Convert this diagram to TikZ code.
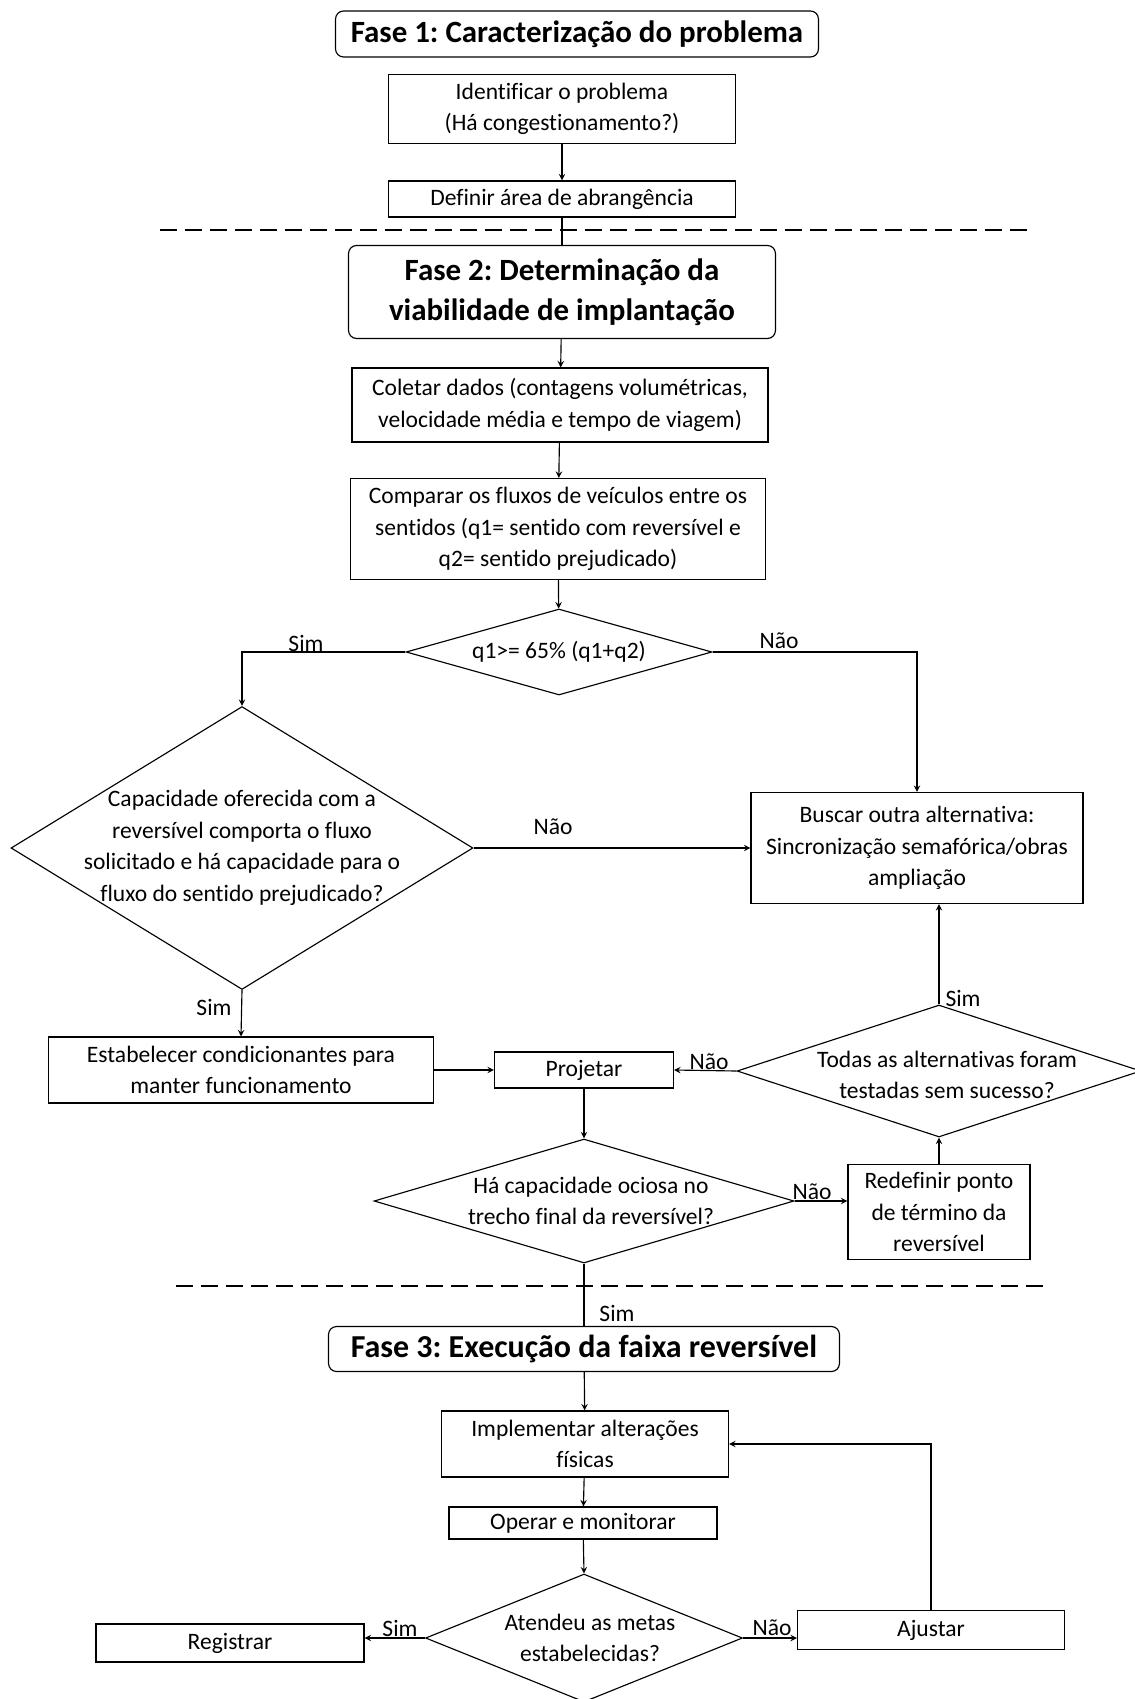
\documentclass[tikz,border=0pt]{standalone}
\usepackage{fontspec}
\setmainfont{Carlito}[Ligatures=NoCommon]
\usetikzlibrary{shapes.geometric, arrows}
\frenchspacing

\begin{document}
\begin{tikzpicture}[x=0.02cm, y=-0.02cm, line width=0.65pt, font=\fontsize{13.4}{17.9}\selectfont]

% --- Define Styles ---
\tikzstyle{phase} = [rectangle, rounded corners=0.16cm, draw=black, align=center, inner sep=0pt, font=\fontsize{17.6}{23}\selectfont\bfseries]
\tikzstyle{process} = [rectangle, draw=black, align=center, inner sep=0pt]
\tikzstyle{decision} = [diamond, draw=black, inner sep=0pt]
\tikzstyle{answer} = [inner sep=0pt]
\tikzstyle{arrow} = [->,>=stealth]
\tikzstyle{sepline} = [dash pattern=on 0.34cm off 0.16cm, line width=1pt]

\useasboundingbox (0,0) rectangle (1134,1699);

% --- Fase 1 ---
\node (fase1) [phase, minimum width=9.66cm, minimum height=0.92cm] at (577,34) {Fase 1: Caracterização do problema};
\node (ident) [process, minimum width=6.94cm, minimum height=1.38cm] at (562,109) {Identificar o problema\\(Há congestionamento?)};
\node (defin) [process, minimum width=6.94cm, minimum height=0.72cm] at (562,199) {Definir área de abrangência};

% --- Fase 2 ---
\node (fase2) [phase, minimum width=8.54cm, minimum height=1.86cm] at (562,292) {Fase 2: Determinação da\\viabilidade de implantação};
\node (coletar) [process, minimum width=8.32cm, minimum height=1.48cm] at (560,405) {Coletar dados (contagens volumétricas,\\velocidade média e tempo de viagem)};
\node (comparar) [process, minimum width=8.3cm, minimum height=2.02cm] at (558,529) {Comparar os fluxos de veículos entre os\\sentidos (q1= sentido com reversível e\\q2= sentido prejudicado)};
\node (fluxo) [decision, minimum width=6.12cm, minimum height=1.72cm, label={center:{q1>= 65\% (q1+q2)}}] at (559,652) {};
\node (capac) [decision, minimum width=9.24cm, minimum height=5.66cm, label={[align=center]center:{Capacidade oferecida com a\\reversível comporta o fluxo\\solicitado e há capacidade para o\\fluxo do sentido prejudicado?}}] at (242,848) {};
\node (buscar) [process, minimum width=6.64cm, minimum height=2.22cm] at (917,848) {Buscar outra alternativa:\\Sincronização semafórica/obras\\ampliação};
\node (estab) [process, minimum width=7.7cm, minimum height=1.32cm] at (241,1070) {Estabelecer condicionantes para\\manter funcionamento};
\node (projetar) [process, minimum width=3.58cm, minimum height=0.72cm] at (584,1070) {Projetar};
\node (todas) [decision, minimum width=8.08cm, minimum height=2.64cm, label={[align=center, xshift=0.16cm, yshift=-0.08cm]center:{Todas as alternativas foram\\testadas sem sucesso?}}] at (939,1071) {};
\node (ociosa) [decision, minimum width=8.4cm, minimum height=2.48cm, label={[align=center, xshift=0.14cm]center:{Há capacidade ociosa no\\trecho final da reversível?}}] at (584,1201) {};
\node (redef) [process, minimum width=3.64cm, minimum height=1.9cm] at (939,1212) {Redefinir ponto\\de término da\\reversível};

% --- Fase 3 ---
\node (fase3) [phase, minimum width=10.22cm, minimum height=0.9cm, font=\fontsize{18.2}{23}\selectfont\bfseries] at (584,1349) {Fase 3: Execução da faixa reversível};
\node (implem) [process, minimum width=5.74cm, minimum height=1.32cm] at (585,1444) {Implementar alterações\\físicas};
\node (operar) [process, minimum width=5.36cm, minimum height=0.64cm] at (583,1523) {Operar e monitorar};
\node (metas) [decision, minimum width=6.34cm, minimum height=2.56cm, label={[align=center, xshift=0.12cm]center:{Atendeu as metas\\estabelecidas?}}] at (584,1638) {};
\node (regist) [process, minimum width=5.36cm, minimum height=0.76cm] at (230,1643) {Registrar};
\node (ajustar) [process, minimum width=5.34cm, minimum height=0.78cm] at (931,1630) {Ajustar};

% --- Sim / Não ---
\node (sim1) [answer] at (306,643) {Sim};
\node (nao1) [answer] at (779,641) {Não};
\node (nao2) [answer] at (553,827) {Não};
\node (sim2) [answer] at (214,1007) {Sim};
\node (nao3) [answer] at (709,1062) {Não};
\node (sim3) [answer] at (963,998) {Sim};
\node (nao4) [answer] at (812,1192) {Não};
\node (sim4) [answer] at (617,1313) {Sim};
\node (sim5) [answer] at (400,1628) {Sim};
\node (nao5) [answer] at (772,1628) {Não};

% --- Separators ---
\draw [sepline] (160,230) -- (1034,230);
\draw [sepline] (176,1286) -- (1043,1286);

% --- Arrows ---
\draw [arrow] (ident) -- (defin);
\draw (defin) -- (fase2);
\draw [arrow] (fase2) -- (coletar);
\draw [arrow] (coletar) -- (comparar);
\draw [arrow] (comparar) -- (fluxo);
\draw [arrow] (fluxo.west) -| (capac.north);
\draw [arrow] (fluxo.east) -| (buscar.north);
\draw [arrow] (capac.east) -- (buscar.west);
\draw [arrow] (capac.south) -- (estab.north);
\draw [arrow] (estab) -- (projetar);
\draw [arrow] (todas.west) -- (projetar.east);
\draw [arrow] (todas.north) -- (todas.north |- buscar.south);
\draw [arrow] (projetar) -- (ociosa.north);
\draw [arrow] (ociosa.east) -- (ociosa.east -| redef.west);
\draw [arrow] (redef) -- (todas.south);
\draw (ociosa.south) -- (fase3.north);
\draw [arrow] (fase3) -- (implem);
\draw [arrow] (implem) -- (operar);
\draw [arrow] (operar) -- (metas.north);
\draw [arrow] (metas.west) -- (metas.west -| regist.east);
\draw [arrow] (metas.east) -- (metas.east -| ajustar.west);
\draw [arrow] (ajustar.north) |- (implem.east);

\end{tikzpicture}
\end{document}
